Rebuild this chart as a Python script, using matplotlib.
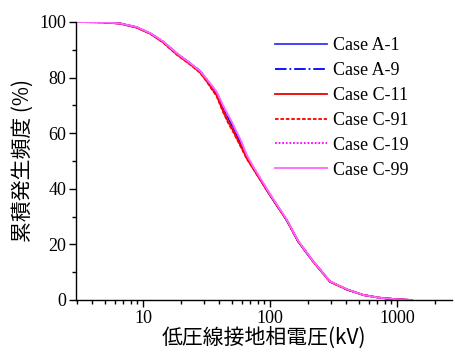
import matplotlib
matplotlib.use("Agg")
import matplotlib.pyplot as plt
from matplotlib.ticker import MultipleLocator, FixedLocator, LogLocator, NullFormatter

# voltage (kV) and cumulative frequency (%)
kv = [2.97, 4.9, 6.6, 8.9, 11.4, 14.4, 18.4, 23.5, 28.1, 31.7, 38, 42.9, 47, 51.4,
      59.8, 65.6, 74, 100, 135, 167, 219, 297, 402, 543, 735, 995, 1300]

case_a1  = [100, 99.9, 99.5, 98.1, 95.9, 92.9, 88.7, 85.1, 82.3, 79.3, 74.4, 69.0, 65.5,
            62.0, 55.8, 51.5, 47.4, 37.8, 28.8, 21.0, 13.8, 6.6, 3.8, 1.8, 0.8, 0.25, 0]
case_a9  = [100, 99.9, 99.5, 98.1, 95.9, 92.9, 88.7, 85.1, 82.4, 79.4, 74.5, 69.1, 65.6,
            62.1, 55.9, 51.6, 47.4, 37.8, 28.8, 21.0, 13.8, 6.6, 3.8, 1.8, 0.8, 0.25, 0]
case_c11 = [100, 99.9, 99.4, 98.0, 95.8, 92.7, 88.4, 84.8, 81.9, 78.8, 73.6, 67.8, 64.0,
            60.8, 54.8, 51.0, 47.2, 37.7, 28.8, 21.0, 13.8, 6.6, 3.8, 1.8, 0.8, 0.25, 0]
case_c91 = [100, 99.9, 99.4, 98.0, 95.8, 92.6, 88.3, 84.7, 81.8, 78.6, 73.3, 67.4, 63.6,
            60.4, 54.5, 50.8, 47.1, 37.7, 28.8, 21.0, 13.8, 6.6, 3.8, 1.8, 0.8, 0.25, 0]
case_c19 = [100, 99.9, 99.5, 98.2, 96.0, 93.0, 88.8, 85.2, 82.3, 79.4, 74.8, 69.6, 66.2,
            62.8, 56.6, 52.0, 47.8, 38.0, 29.0, 21.2, 13.9, 6.7, 3.9, 1.8, 0.8, 0.25, 0]
case_c99 = [100, 99.9, 99.5, 98.2, 96.0, 93.0, 88.8, 85.2, 82.4, 79.5, 74.9, 69.8, 66.4,
            63.0, 56.8, 52.2, 47.9, 38.1, 29.0, 21.2, 13.9, 6.7, 3.9, 1.8, 0.8, 0.25, 0]

labels = ["Case A-1", "Case A-9", "Case C-11", "Case C-91", "Case C-19", "Case C-99"]
series = [case_a1, case_a9, case_c11, case_c91, case_c19, case_c99]
colors = ["#3333ff", "#0000ff", "#ee0000", "#ff0000", "#ff00ff", "#ff66ff"]
styles = ["-", "-.", "-", (0, (2, 1)), (0, (1, 1)), "-"]

SERIF = "Liberation Serif"
CJK = ["Noto Sans CJK JP", "DejaVu Sans"]

fig = plt.figure(figsize=(4.55, 3.56), dpi=100)
ax = fig.add_axes([76 / 455, 56 / 356, 376 / 455, 278 / 356])

for y, lab, c, ls in zip(series, labels, colors, styles):
    ax.plot(kv, y, color=c, linestyle=ls, linewidth=1.3, label=lab)

ax.set_xscale("log")
ax.set_xlim(2.97, 2710)
ax.set_ylim(0, 100)

ax.spines["top"].set_visible(False)
ax.spines["right"].set_visible(False)
for s in ("left", "bottom"):
    ax.spines[s].set_linewidth(1.0)

ax.xaxis.set_major_locator(FixedLocator([10, 100, 1000]))
ax.xaxis.set_minor_locator(LogLocator(base=10, subs=range(2, 10)))
ax.xaxis.set_minor_formatter(NullFormatter())
ax.set_xticklabels(["10", "100", "1000"])
ax.yaxis.set_major_locator(MultipleLocator(20))
ax.yaxis.set_minor_locator(MultipleLocator(10))

ax.tick_params(which="major", direction="out", length=5, width=1.0, labelsize=13, pad=2)
ax.tick_params(which="minor", direction="out", length=3, width=1.0)
for t in ax.get_xticklabels() + ax.get_yticklabels():
    t.set_fontfamily(SERIF)

ax.set_xlabel("低圧線接地相電圧(kV)", fontsize=15, family=CJK, labelpad=0)
ax.set_ylabel("累積発生頻度 (%)", fontsize=15, family=CJK, labelpad=4)

leg = ax.legend(loc="upper left", bbox_to_anchor=(275 / 455, 1 - 37 / 356),
                bbox_transform=fig.transFigure, frameon=False,
                prop={"family": SERIF, "size": 13}, handlelength=2.9,
                handletextpad=0.3, labelspacing=0.44, borderpad=0, borderaxespad=0)

fig.savefig("out.png", dpi=100)
